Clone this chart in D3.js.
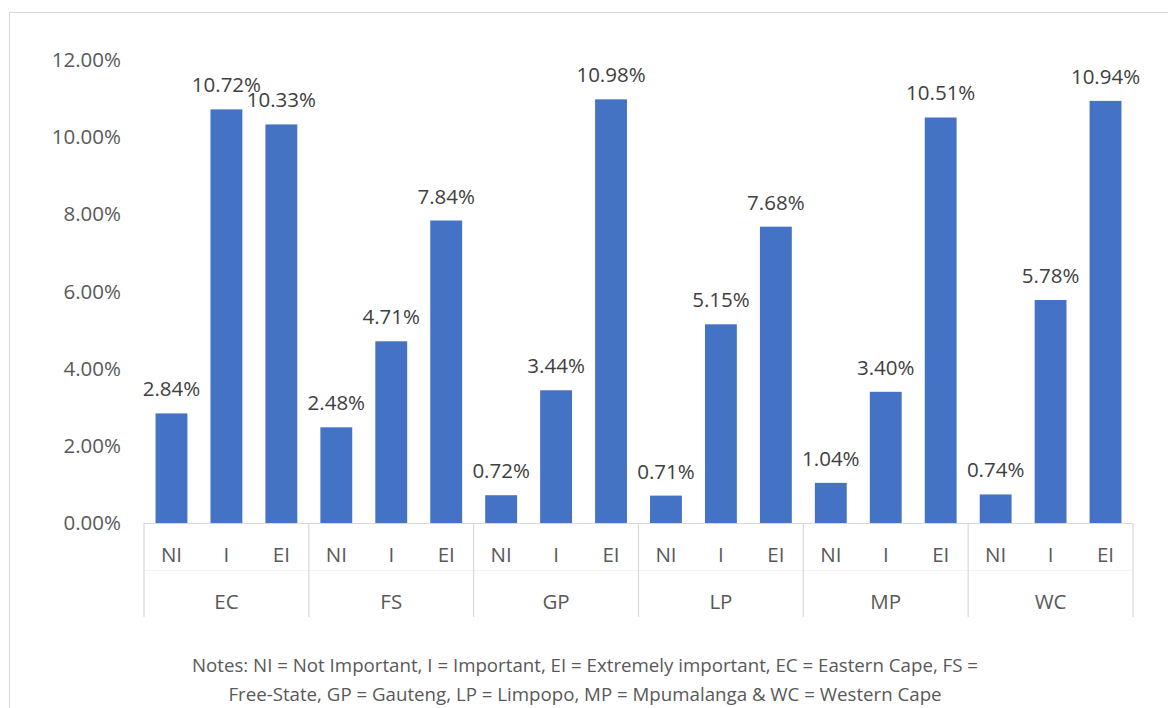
<!DOCTYPE html>
<html><head><meta charset="utf-8">
<script src="https://cdn.jsdelivr.net/npm/d3@7"></script>
<style>
html,body{margin:0;padding:0;background:#fff;}
svg{display:block;font-family:"Open Sans",sans-serif;}
</style></head>
<body>
<svg id="chart" width="1168" height="708"></svg>
<script>
const regions = ["EC","FS","GP","LP","MP","WC"];
const levels = ["NI","I","EI"];
const NI = [2.84, 2.48, 0.72, 0.71, 1.04, 0.74];
const I  = [10.72, 4.71, 3.44, 5.15, 3.40, 5.78];
const EI = [10.33, 7.84, 10.98, 7.68, 10.51, 10.94];
const yTicks = [0, 2, 4, 6, 8, 10, 12];
const notes = ["Notes: NI = Not Important, I = Important, EI = Extremely important, EC = Eastern Cape, FS =",
               "Free-State, GP = Gauteng, LP = Limpopo, MP = Mpumalanga & WC = Western Cape"];

const seriesByLevel = {NI: NI, I: I, EI: EI};
const data = [];
regions.forEach((r, i) => levels.forEach(l => data.push({region: r, level: l, value: seriesByLevel[l][i]})));

const svg = d3.select("#chart");
const pLeft = 144, pRight = 1133, pTop = 60, pBottom = 523;
const fs = 20.5;

// chart border
svg.append("rect").attr("x", 9.5).attr("y", 12.5).attr("width", 1180).attr("height", 720)
  .attr("fill", "none").attr("stroke", "#d9d9d9").attr("stroke-width", 1);

const x0 = d3.scaleBand().domain(regions).range([pLeft, pRight]).padding(0);
const x1 = d3.scaleBand().domain(levels).range([0, x0.bandwidth()]).paddingInner(0.42).paddingOuter(0.21);
const y = d3.scaleLinear().domain([0, 12]).range([pBottom, pTop]);

// y axis labels
const yAxis = d3.axisLeft(y).tickValues(yTicks).tickFormat(d => d.toFixed(2) + "%").tickSize(0).tickPadding(0);
const yg = svg.append("g").attr("transform", `translate(121,0)`).call(yAxis);
yg.select(".domain").remove();
yg.selectAll("text").attr("font-size", fs).attr("fill", "#595959").attr("font-family", "Open Sans, sans-serif");

// bars
svg.append("g").selectAll("rect").data(data).join("rect")
  .attr("x", d => x0(d.region) + x1(d.level))
  .attr("y", d => y(d.value))
  .attr("width", x1.bandwidth())
  .attr("height", d => y(0) - y(d.value))
  .attr("fill", "#4472c4");

// data labels
svg.append("g").selectAll("text").data(data).join("text")
  .attr("x", d => x0(d.region) + x1(d.level) + x1.bandwidth() / 2)
  .attr("y", d => y(d.value) - 17)
  .attr("text-anchor", "middle")
  .attr("font-size", fs)
  .attr("fill", "#404040")
  .text(d => d.value.toFixed(2) + "%");

// category axis
const ax = svg.append("g").attr("stroke", "#d9d9d9").attr("stroke-width", 1.2);
ax.append("line").attr("x1", pLeft).attr("x2", pRight).attr("y1", pBottom + 0.5).attr("y2", pBottom + 0.5);
ax.append("line").attr("x1", pLeft).attr("x2", pRight).attr("y1", 570.5).attr("y2", 570.5).attr("stroke", "#f2f2f2");
regions.concat(["__end"]).forEach((r, i) => {
  const xx = r === "__end" ? pRight : x0(r);
  ax.append("line").attr("x1", xx).attr("x2", xx).attr("y1", pBottom).attr("y2", 617);
});

const lv = svg.append("g");
regions.forEach(r => levels.forEach(l => {
  lv.append("text").attr("x", x0(r) + x1(l) + x1.bandwidth() / 2).attr("y", 562)
    .attr("text-anchor", "middle").attr("font-size", fs).attr("fill", "#595959").text(l);
}));
svg.append("g").selectAll("text").data(regions).join("text")
  .attr("x", d => x0(d) + x0.bandwidth() / 2).attr("y", 609)
  .attr("text-anchor", "middle").attr("font-size", fs).attr("fill", "#595959").text(d => d);

// notes
svg.append("g").selectAll("text").data(notes).join("text")
  .attr("x", 585).attr("y", (d, i) => 672 + i * 29)
  .attr("text-anchor", "middle").attr("font-size", 18.7).attr("fill", "#595959").text(d => d);
</script>
</body></html>
